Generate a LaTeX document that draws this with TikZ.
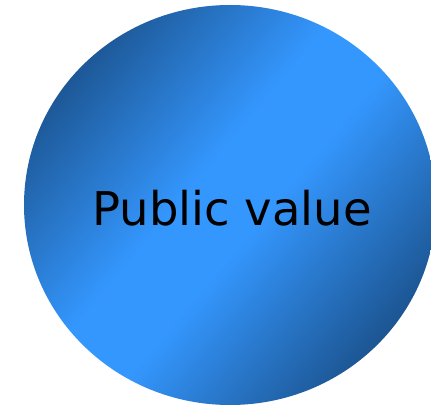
\documentclass[tikz,border=0pt]{standalone}
\usepackage{fontspec}
\setmainfont{DejaVu Sans}
\usetikzlibrary{shapes.geometric}
\definecolor{pvdark}{HTML}{1C5592}
\definecolor{pvbright}{HTML}{3497FE}
\pgfdeclareverticalshading{pvshade}{100bp}{color(0bp)=(pvdark); color(25bp)=(pvdark); color(46bp)=(pvbright); color(55bp)=(pvbright); color(76bp)=(pvdark); color(100bp)=(pvdark)}
\begin{document}
\begin{tikzpicture}[x=1pt,y=1pt,
  bubble/.style={shape=ellipse, minimum width=412pt, minimum height=400pt, inner sep=0pt, shading=pvshade, shading angle=50},
  pvtext/.style={font=\fontsize{46.5}{56}\selectfont, text=black, inner sep=0pt}]
\useasboundingbox (0,0) rectangle (431,407);
\begin{scope}
\clip (0,0) rectangle (431,407);
\node[bubble] (pv) at (230,202) {};
\end{scope}
\node[pvtext, anchor=base] (t) at (232,181) {Public value};
\end{tikzpicture}
\end{document}
